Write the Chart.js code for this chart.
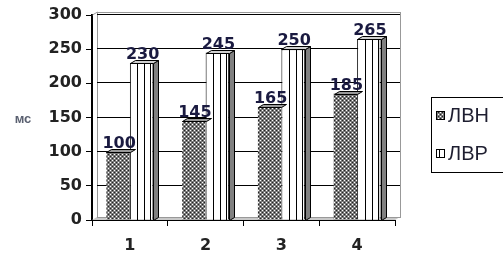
<!DOCTYPE html>
<html>
<head>
<meta charset="utf-8">
<script src="https://cdn.jsdelivr.net/npm/chart.js@4"></script>
<style>
  html, body { margin: 0; padding: 0; background: #fff; }
  #wrap { width: 503px; height: 257px; }
</style>
</head>
<body>
<div id="wrap"><canvas id="chart" width="503" height="257"></canvas></div>
<script>
const categories = ['1', '2', '3', '4'];
const seriesNames = ['ЛВН', 'ЛВР'];
const lvnValues = [100, 145, 165, 185];
const lvrValues = [230, 245, 250, 265];
const yTicks = [0, 50, 100, 150, 200, 250, 300];
const unitLabel = 'мс';

// dotted fill for the first series
function dotPattern() {
    const c = document.createElement('canvas');
    c.width = 4; c.height = 4;
    const g = c.getContext('2d');
    g.fillStyle = '#7a7a7a';
    g.fillRect(0, 0, 4, 4);
    g.fillStyle = '#fff';
    g.fillRect(0, 0, 1, 1);
    g.fillRect(2, 2, 1, 1);
    g.fillStyle = '#222';
    g.fillRect(2, 0, 1, 1);
    g.fillRect(0, 2, 1, 1);
    return g.createPattern(c, 'repeat');
}
const lvnFill = dotPattern();

const DX = 5, DY = 3;
const tickFont = { family: '"DejaVu Sans"', size: 16, weight: 'bold' };

const wallPlugin = {
    id: 'wall',
    beforeDatasetsDraw(chart) {
        const ctx = chart.ctx;
        const a = chart.chartArea;
        const y = chart.scales.y;
        ctx.save();
        // floor
        ctx.fillStyle = '#c8c8c8';
        ctx.beginPath();
        ctx.moveTo(a.left, a.bottom);
        ctx.lineTo(a.left + DX, a.bottom - DY);
        ctx.lineTo(a.right + DX, a.bottom - DY);
        ctx.lineTo(a.right, a.bottom);
        ctx.closePath();
        ctx.fill();
        // back wall border
        ctx.strokeStyle = '#999';
        ctx.lineWidth = 1;
        ctx.strokeRect(a.left + DX + 0.5, a.top - DY + 0.5, a.right - a.left, a.bottom - a.top);
        // grid lines on the wall
        ctx.strokeStyle = '#000';
        yTicks.slice(1).forEach(v => {
            const py = Math.round(y.getPixelForValue(v)) - 1 + 0.5;
            ctx.beginPath();
            ctx.moveTo(a.left + DX, py);
            ctx.lineTo(a.right + DX, py);
            ctx.stroke();
        });
        // left wall edge
        ctx.strokeStyle = '#999';
        ctx.beginPath();
        ctx.moveTo(a.left + 0.5, a.top);
        ctx.lineTo(a.left + DX + 0.5, a.top - DY);
        ctx.stroke();
        ctx.restore();
    },
    afterDatasetsDraw(chart) {
        const ctx = chart.ctx;
        ctx.save();
        ctx.lineWidth = 1;
        chart.data.datasets.forEach((ds, di) => {
            const meta = chart.getDatasetMeta(di);
            meta.data.forEach((bar, idx) => {
                const l = Math.round(bar.x - bar.width / 2) + 0.5;
                const r = Math.round(bar.x + bar.width / 2) + 0.5;
                const t = Math.round(bar.y) + 0.5;
                const b = Math.round(bar.base) + 0.5;
                if (di === 1) {
                    // cylinder-like stripes
                    ctx.strokeStyle = '#000';
                    [0.3, 0.6, 0.85].forEach(f => {
                        const x = Math.round(l + (r - l) * f) + 0.5;
                        ctx.beginPath();
                        ctx.moveTo(x, t);
                        ctx.lineTo(x, b);
                        ctx.stroke();
                    });
                    // side face
                    ctx.fillStyle = '#808080';
                    ctx.beginPath();
                    ctx.moveTo(r, t);
                    ctx.lineTo(r + DX, t - DY);
                    ctx.lineTo(r + DX, b - DY);
                    ctx.lineTo(r, b);
                    ctx.closePath();
                    ctx.fill();
                    ctx.stroke();
                }
                // top face
                ctx.fillStyle = di === 1 ? '#d0d0d0' : '#9a9a9a';
                ctx.strokeStyle = '#000';
                ctx.beginPath();
                ctx.moveTo(l, t);
                ctx.lineTo(l + DX, t - DY);
                ctx.lineTo(r + DX, t - DY);
                ctx.lineTo(r, t);
                ctx.closePath();
                ctx.fill();
                ctx.stroke();
                // value label
                ctx.fillStyle = '#1a1a40';
                ctx.font = 'bold 16px "DejaVu Sans"';
                ctx.textAlign = 'center';
                ctx.textBaseline = 'bottom';
                ctx.fillText(String(ds.data[idx]), bar.x + 1, t - 1);
            });
        });
        // axis unit
        ctx.fillStyle = '#5a6070';
        ctx.font = 'bold 13px Arial, "Liberation Sans"';
        ctx.textAlign = 'center';
        ctx.textBaseline = 'middle';
        ctx.fillText(unitLabel, 23, 119);
        ctx.restore();
    },
    afterDraw(chart) {
        // legend box
        const ctx = chart.ctx;
        ctx.save();
        ctx.strokeStyle = '#000';
        ctx.lineWidth = 1;
        ctx.strokeRect(431.5, 97.5, 80, 75);
        ctx.font = '20px Arial, "Liberation Sans"';
        ctx.textAlign = 'left';
        ctx.textBaseline = 'middle';
        seriesNames.forEach((name, i) => {
            const cy = 115 + i * 38;
            ctx.fillStyle = i === 0 ? lvnFill : '#fff';
            ctx.fillRect(436, cy - 4, 9, 9);
            ctx.strokeStyle = '#000';
            ctx.strokeRect(436.5, cy - 3.5, 8, 8);
            if (i === 1) {
                ctx.beginPath();
                ctx.moveTo(439.5, cy - 3);
                ctx.lineTo(439.5, cy + 4);
                ctx.stroke();
            }
            ctx.fillStyle = '#1e1e30';
            ctx.fillText(name, 448, cy + 1);
        });
        ctx.restore();
    }
};

new Chart(document.getElementById('chart').getContext('2d'), {
    type: 'bar',
    data: {
        labels: categories,
        datasets: [{
            label: seriesNames[0],
            data: lvnValues,
            backgroundColor: lvnFill,
            borderColor: '#000',
            borderWidth: 0
        }, {
            label: seriesNames[1],
            data: lvrValues,
            backgroundColor: '#fff',
            borderColor: '#000',
            borderWidth: 1
        }]
    },
    options: {
        responsive: false,
        animation: false,
        layout: { padding: { left: 0, right: 108, top: 15, bottom: 0 } },
        datasets: { bar: { categoryPercentage: 0.62, barPercentage: 1 } },
        plugins: { legend: { display: false }, tooltip: { enabled: false } },
        scales: {
            x: {
                grid: { offset: true, drawOnChartArea: false, drawTicks: true, tickLength: 6, color: '#000' },
                border: { display: true, color: '#000', width: 1 },
                ticks: { color: '#222', font: tickFont, padding: 10 },
                afterFit(s) { s.height = 37; }
            },
            y: {
                min: 0,
                max: 300,
                afterBuildTicks(s) { s.ticks = yTicks.map(v => ({ value: v })); },
                grid: { drawOnChartArea: false, drawTicks: true, tickLength: 6, color: '#000' },
                border: { display: true, color: '#000', width: 2 },
                ticks: { color: '#222', font: tickFont, padding: 4 },
                afterFit(s) { s.width = 92; }
            }
        }
    },
    plugins: [wallPlugin]
});
</script>
</body>
</html>
